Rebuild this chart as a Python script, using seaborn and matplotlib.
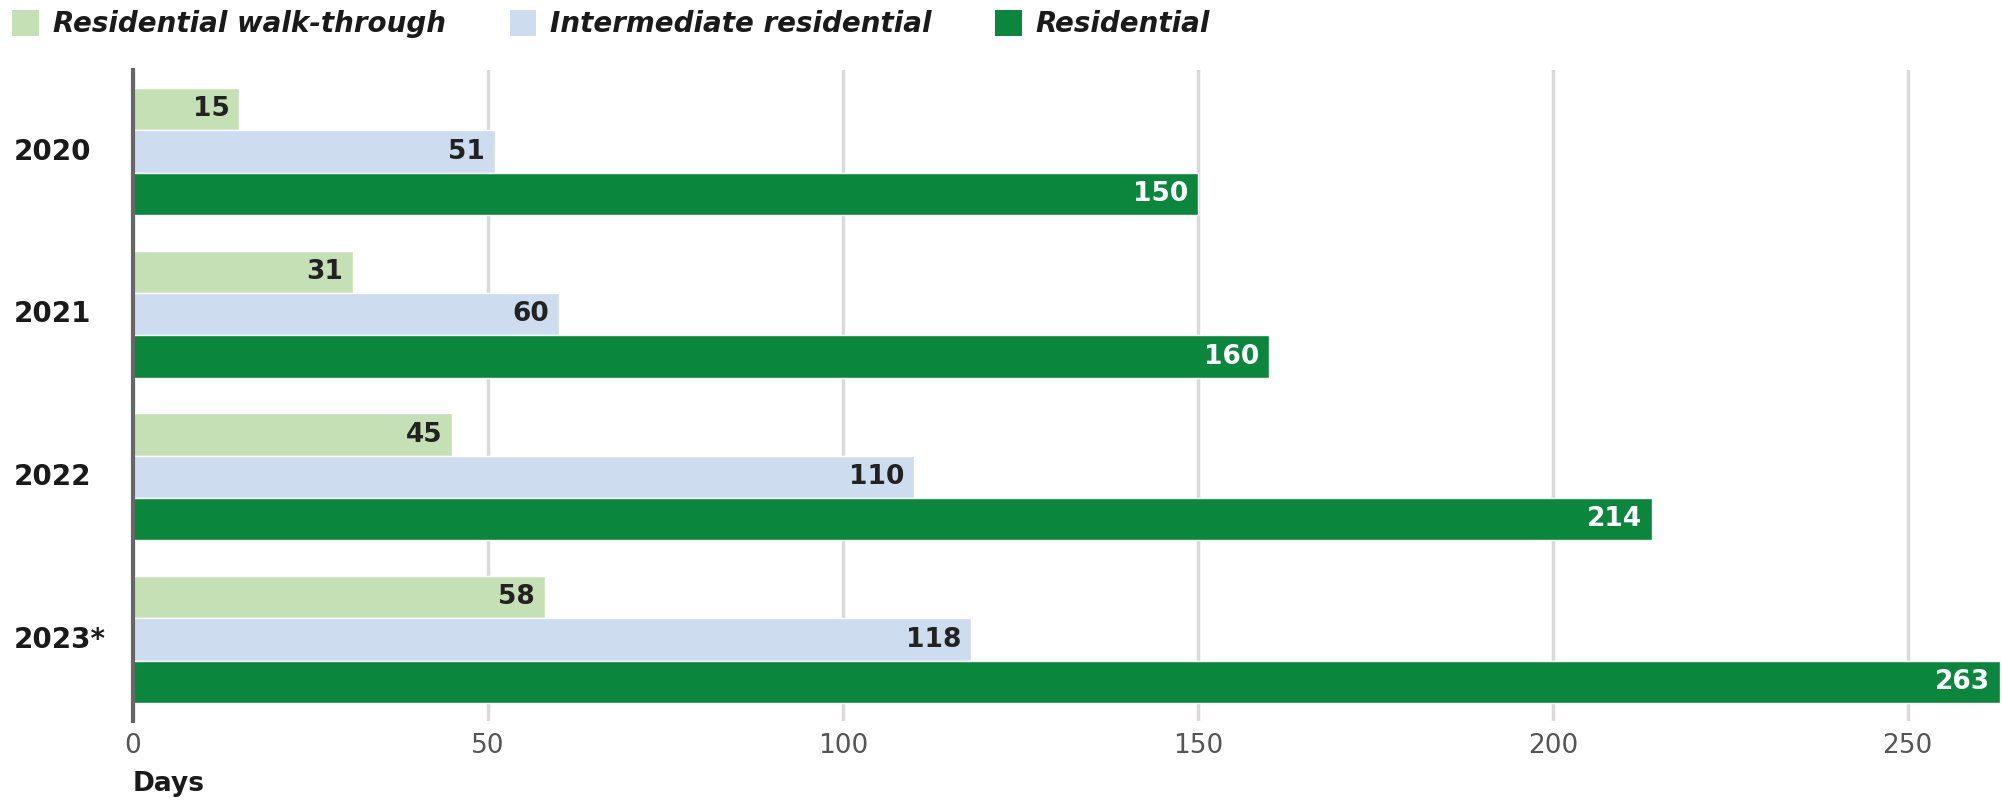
import matplotlib
matplotlib.use("Agg")
import matplotlib.pyplot as plt
import seaborn as sns
import pandas as pd
from matplotlib.patches import Patch

years = ["2020", "2021", "2022", "2023*"]
series = ["Residential walk-through", "Intermediate residential", "Residential"]
walk_through = [15, 31, 45, 58]
intermediate = [51, 60, 110, 118]
residential = [150, 160, 214, 263]
x_ticks = [0, 50, 100, 150, 200, 250]
colors = ["#c5e0b4", "#cddcee", "#0a873d"]
label_colors = ["#222222", "#222222", "#ffffff"]

rows = []
for name, vals in zip(series, [walk_through, intermediate, residential]):
    for y, v in zip(years, vals):
        rows.append({"year": y, "days": v, "series": name})
df = pd.DataFrame(rows)

sns.set_theme(style="white")
plt.rcParams["font.family"] = ["DejaVu Sans"]

fig = plt.figure(figsize=(20.02, 8.07), dpi=100)
ax = fig.add_axes([0.0664, 0.1066, 0.9326, 0.8064])

sns.barplot(data=df, y="year", x="days", hue="series", orient="h",
            order=years, hue_order=series, palette=colors, width=0.78,
            edgecolor="white", linewidth=1.0, saturation=1, ax=ax, legend=False,
            zorder=3)

ax.set_xlim(0, 263)
ax.set_ylim(3.5, -0.5)
ax.set_xticks(x_ticks)
ax.xaxis.grid(True, color="#dadada", linewidth=2.5, zorder=0)
ax.set_axisbelow(True)
for s in ["top", "right", "bottom"]:
    ax.spines[s].set_visible(False)
ax.spines["left"].set_color("#666666")
ax.spines["left"].set_linewidth(3)
ax.spines["left"].set_zorder(5)
ax.tick_params(axis="y", length=0, pad=86, labelsize=20, labelcolor="#1a1a1a")
ax.tick_params(axis="x", length=0, pad=9, labelsize=19, labelcolor="#555555")
for lab in ax.get_yticklabels():
    lab.set_fontweight("bold")
    lab.set_horizontalalignment("left")
    lab.set_verticalalignment("center")
ax.set_ylabel("")
ax.set_xlabel("")
fig.text(0.0664, 0.028, "Days", fontsize=19, fontweight="bold", color="#1a1a1a",
         ha="left", va="center")

for container, lc in zip(ax.containers, label_colors):
    for patch in container.patches:
        w = patch.get_width()
        yc = patch.get_y() + patch.get_height() / 2
        ax.annotate(f"{w:.0f}", xy=(w, yc), xytext=(-7, 0),
                    textcoords="offset points", ha="right", va="center",
                    fontsize=19, fontweight="bold", color=lc, zorder=6)

handles = [Patch(facecolor=c, edgecolor="none") for c in colors]
fig.legend(handles, series, loc="upper left", bbox_to_anchor=(0.002, 0.998),
           ncol=3, frameon=False, handlelength=0.95, handleheight=1.05,
           handletextpad=0.5, columnspacing=2.3, borderpad=0.3,
           borderaxespad=0.0,
           prop={"size": 20, "weight": "bold", "style": "italic"},
           labelcolor="#1a1a1a")

fig.savefig("out.png", dpi=100)
